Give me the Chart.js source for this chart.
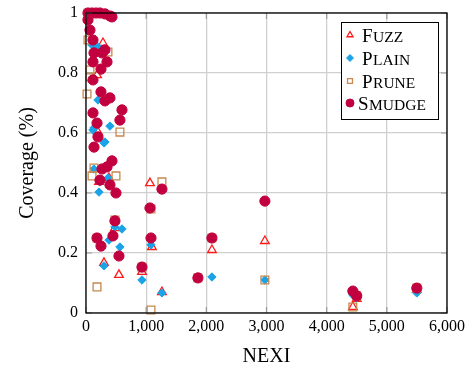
<!DOCTYPE html>
<html>
<head>
<meta charset="utf-8">
<script src="https://cdn.jsdelivr.net/npm/chart.js@4/dist/chart.umd.min.js"></script>
<style>
  html, body { margin: 0; padding: 0; background: #fff; }
  canvas { display: block; }
</style>
</head>
<body>
<canvas id="grafico" width="471" height="369"></canvas>
<script>
// dados (NEXI, cobertura)
const fuzzX   = [33, 282, 183, 199, 1063, 216, 382, 481, 1096, 2093, 299, 548, 930, 1262, 2973, 4435, 4500, 5498];
const fuzzY   = [0.993, 0.9, 0.793, 0.603, 0.433, 0.437, 0.45, 0.283, 0.22, 0.21, 0.167, 0.127, 0.137, 0.07, 0.24, 0.02, 0.047, 0.077];

const plainX  = [33, 100, 199, 199, 398, 133, 116, 315, 299, 133, 365, 216, 232, 598, 481, 382, 564, 1080, 299, 930, 1262, 2093, 2973, 4435, 4500, 5498];
const plainY  = [0.983, 0.893, 0.887, 0.71, 0.623, 0.617, 0.61, 0.57, 0.567, 0.48, 0.45, 0.403, 0.437, 0.28, 0.287, 0.243, 0.22, 0.227, 0.157, 0.11, 0.067, 0.12, 0.11, 0.06, 0.05, 0.067];

const pruneX  = [33, 33, 365, 66, 66, 17, 564, 1262, 498, 100, 133, 481, 2093, 1080, 183, 1080, 930, 1860, 2973, 4435, 4500, 5498, 183];
const pruneY  = [1.0, 0.91, 0.87, 0.81, 0.787, 0.73, 0.603, 0.437, 0.457, 0.457, 0.483, 0.31, 0.25, 0.347, 0.087, 0.01, 0.153, 0.117, 0.11, 0.02, 0.057, 0.083, 0.25];

const smudgeX = [33, 100, 166, 232, 315, 398, 432, 33, 66, 116, 133, 266, 315, 349, 116, 249, 116, 249, 398, 315, 598, 116, 564, 183, 199, 133, 432, 349, 266, 232, 398, 498, 1063, 1262, 481, 448, 183, 249, 1080, 2093, 548, 930, 1860, 2973, 4435, 4500, 5498];
const smudgeY = [1.0, 1.0, 1.0, 1.0, 0.997, 0.99, 0.987, 0.977, 0.943, 0.91, 0.867, 0.867, 0.877, 0.837, 0.837, 0.813, 0.777, 0.737, 0.717, 0.707, 0.677, 0.667, 0.643, 0.633, 0.587, 0.553, 0.507, 0.487, 0.48, 0.443, 0.427, 0.4, 0.35, 0.413, 0.307, 0.257, 0.25, 0.223, 0.25, 0.25, 0.19, 0.153, 0.117, 0.373, 0.073, 0.057, 0.083];

const seriesNames = ['Fuzz', 'Plain', 'Prune', 'Smudge'];
const xTicks = ['0', '1,000', '2,000', '3,000', '4,000', '5,000', '6,000'];
const yTicks = ['0', '0.2', '0.4', '0.6', '0.8', '1'];

const SERIF = "'Liberation Serif', 'Times New Roman', serif";

const pts = (xs, ys) => xs.map((x, i) => ({ x: x, y: ys[i] }));

// texto em versalete: primeira letra grande, resto maiúsculo menor
function versalete(ctx, txt, x, y) {
  ctx.font = '19px ' + SERIF;
  ctx.fillText(txt[0], x, y);
  const w = ctx.measureText(txt[0]).width;
  ctx.font = '15.5px ' + SERIF;
  ctx.fillText(txt.slice(1).toUpperCase(), x + w + 0.5, y);
}

// moldura, marcas internas e legenda
const moldura = {
  id: 'moldura',
  afterDraw(chart) {
    const { ctx, chartArea: a, scales } = chart;
    ctx.save();
    ctx.strokeStyle = '#999';
    ctx.lineWidth = 1.2;
    scales.x.ticks.forEach((t, i) => {
      const px = scales.x.getPixelForTick(i);
      ctx.beginPath();
      ctx.moveTo(px, a.bottom); ctx.lineTo(px, a.bottom - 6);
      ctx.moveTo(px, a.top); ctx.lineTo(px, a.top + 6);
      ctx.stroke();
    });
    scales.y.ticks.forEach((t, i) => {
      const py = scales.y.getPixelForTick(i);
      ctx.beginPath();
      ctx.moveTo(a.left, py); ctx.lineTo(a.left + 6, py);
      ctx.moveTo(a.right, py); ctx.lineTo(a.right - 6, py);
      ctx.stroke();
    });
    ctx.strokeStyle = '#000';
    ctx.lineWidth = 1.3;
    ctx.strokeRect(a.left, a.top, a.right - a.left, a.bottom - a.top);

    // legenda
    const bx = 341, by = 22, bw = 97, bh = 97;
    ctx.fillStyle = '#fff';
    ctx.fillRect(bx, by, bw, bh);
    ctx.strokeStyle = '#000';
    ctx.lineWidth = 1;
    ctx.strokeRect(bx + 0.5, by + 0.5, bw, bh);
    const rows = [35, 58, 81, 103];
    chart.data.datasets.forEach((ds, i) => {
      const cy = rows[i];
      const style = ds.pointStyle;
      ctx.save();
      ctx.lineWidth = ds.pointBorderWidth;
      ctx.strokeStyle = ds.borderColor;
      ctx.fillStyle = ds.backgroundColor;
      Chart.helpers.drawPoint(ctx, {
        pointStyle: style,
        radius: style === 'circle' ? 4 : 3.5,
        rotation: 0,
        borderWidth: ds.pointBorderWidth
      }, 350, cy);
      ctx.restore();
      ctx.fillStyle = '#000';
      ctx.textBaseline = 'alphabetic';
      ctx.textAlign = 'left';
      versalete(ctx, ds.label, i === 3 ? 358 : 362, cy + 7);
    });
    ctx.restore();
  }
};

new Chart(document.getElementById('grafico'), {
  type: 'scatter',
  data: {
    datasets: [
      {
        label: seriesNames[0], data: pts(fuzzX, fuzzY), order: 3,
        pointStyle: 'triangle', pointRadius: 5, pointBorderWidth: 1.3,
        borderColor: '#ff1a1a', backgroundColor: 'rgba(255,255,255,0)', clip: false
      },
      {
        label: seriesNames[1], data: pts(plainX, plainY), order: 2,
        pointStyle: 'rectRot', pointRadius: 4.2, pointBorderWidth: 1,
        borderColor: '#1aa3e6', backgroundColor: '#1aa3e6', clip: false
      },
      {
        label: seriesNames[2], data: pts(pruneX, pruneY), order: 1,
        pointStyle: 'rect', pointRadius: 5.5, pointBorderWidth: 1.3,
        borderColor: '#c8884f', backgroundColor: 'rgba(255,255,255,0)', clip: false
      },
      {
        label: seriesNames[3], data: pts(smudgeX, smudgeY), order: 0,
        pointStyle: 'circle', pointRadius: 5.1, pointBorderWidth: 1,
        borderColor: '#c2003f', backgroundColor: '#c2003f', clip: false
      }
    ]
  },
  options: {
    responsive: false,
    animation: false,
    layout: { padding: { top: 13, right: 24, bottom: 0, left: 16 } },
    plugins: {
      legend: { display: false },
      tooltip: { enabled: false }
    },
    scales: {
      x: {
        type: 'linear', min: 0, max: 6000,
        afterBuildTicks: s => { s.ticks = xTicks.map((t, i) => ({ value: i * 1000 })); },
        afterFit: s => { s.height = 56; },
        ticks: {
          callback: (v, i) => xTicks[i],
          color: '#000', font: { family: SERIF, size: 16 }, padding: 4, maxRotation: 0
        },
        grid: { color: '#d0d0d0', lineWidth: 1.3, drawTicks: false },
        border: { display: false },
        title: {
          display: true, text: 'NEXI', color: '#000',
          font: { family: SERIF, size: 20 }, padding: { top: 2, bottom: 0 }
        }
      },
      y: {
        type: 'linear', min: 0, max: 1,
        afterBuildTicks: s => { s.ticks = yTicks.map((t, i) => ({ value: i * 0.2 })); },
        afterFit: s => { s.width = 70; s.paddingTop = 0; s.paddingBottom = 0; },
        ticks: {
          callback: (v, i) => yTicks[i],
          color: '#000', font: { family: SERIF, size: 16 }, padding: 8
        },
        grid: { color: '#d0d0d0', lineWidth: 1.3, drawTicks: false },
        border: { display: false },
        title: {
          display: true, text: 'Coverage (%)', color: '#000',
          font: { family: SERIF, size: 20 }, padding: { top: 0, bottom: 6 }
        }
      }
    }
  },
  plugins: [moldura]
});
</script>
</body>
</html>
